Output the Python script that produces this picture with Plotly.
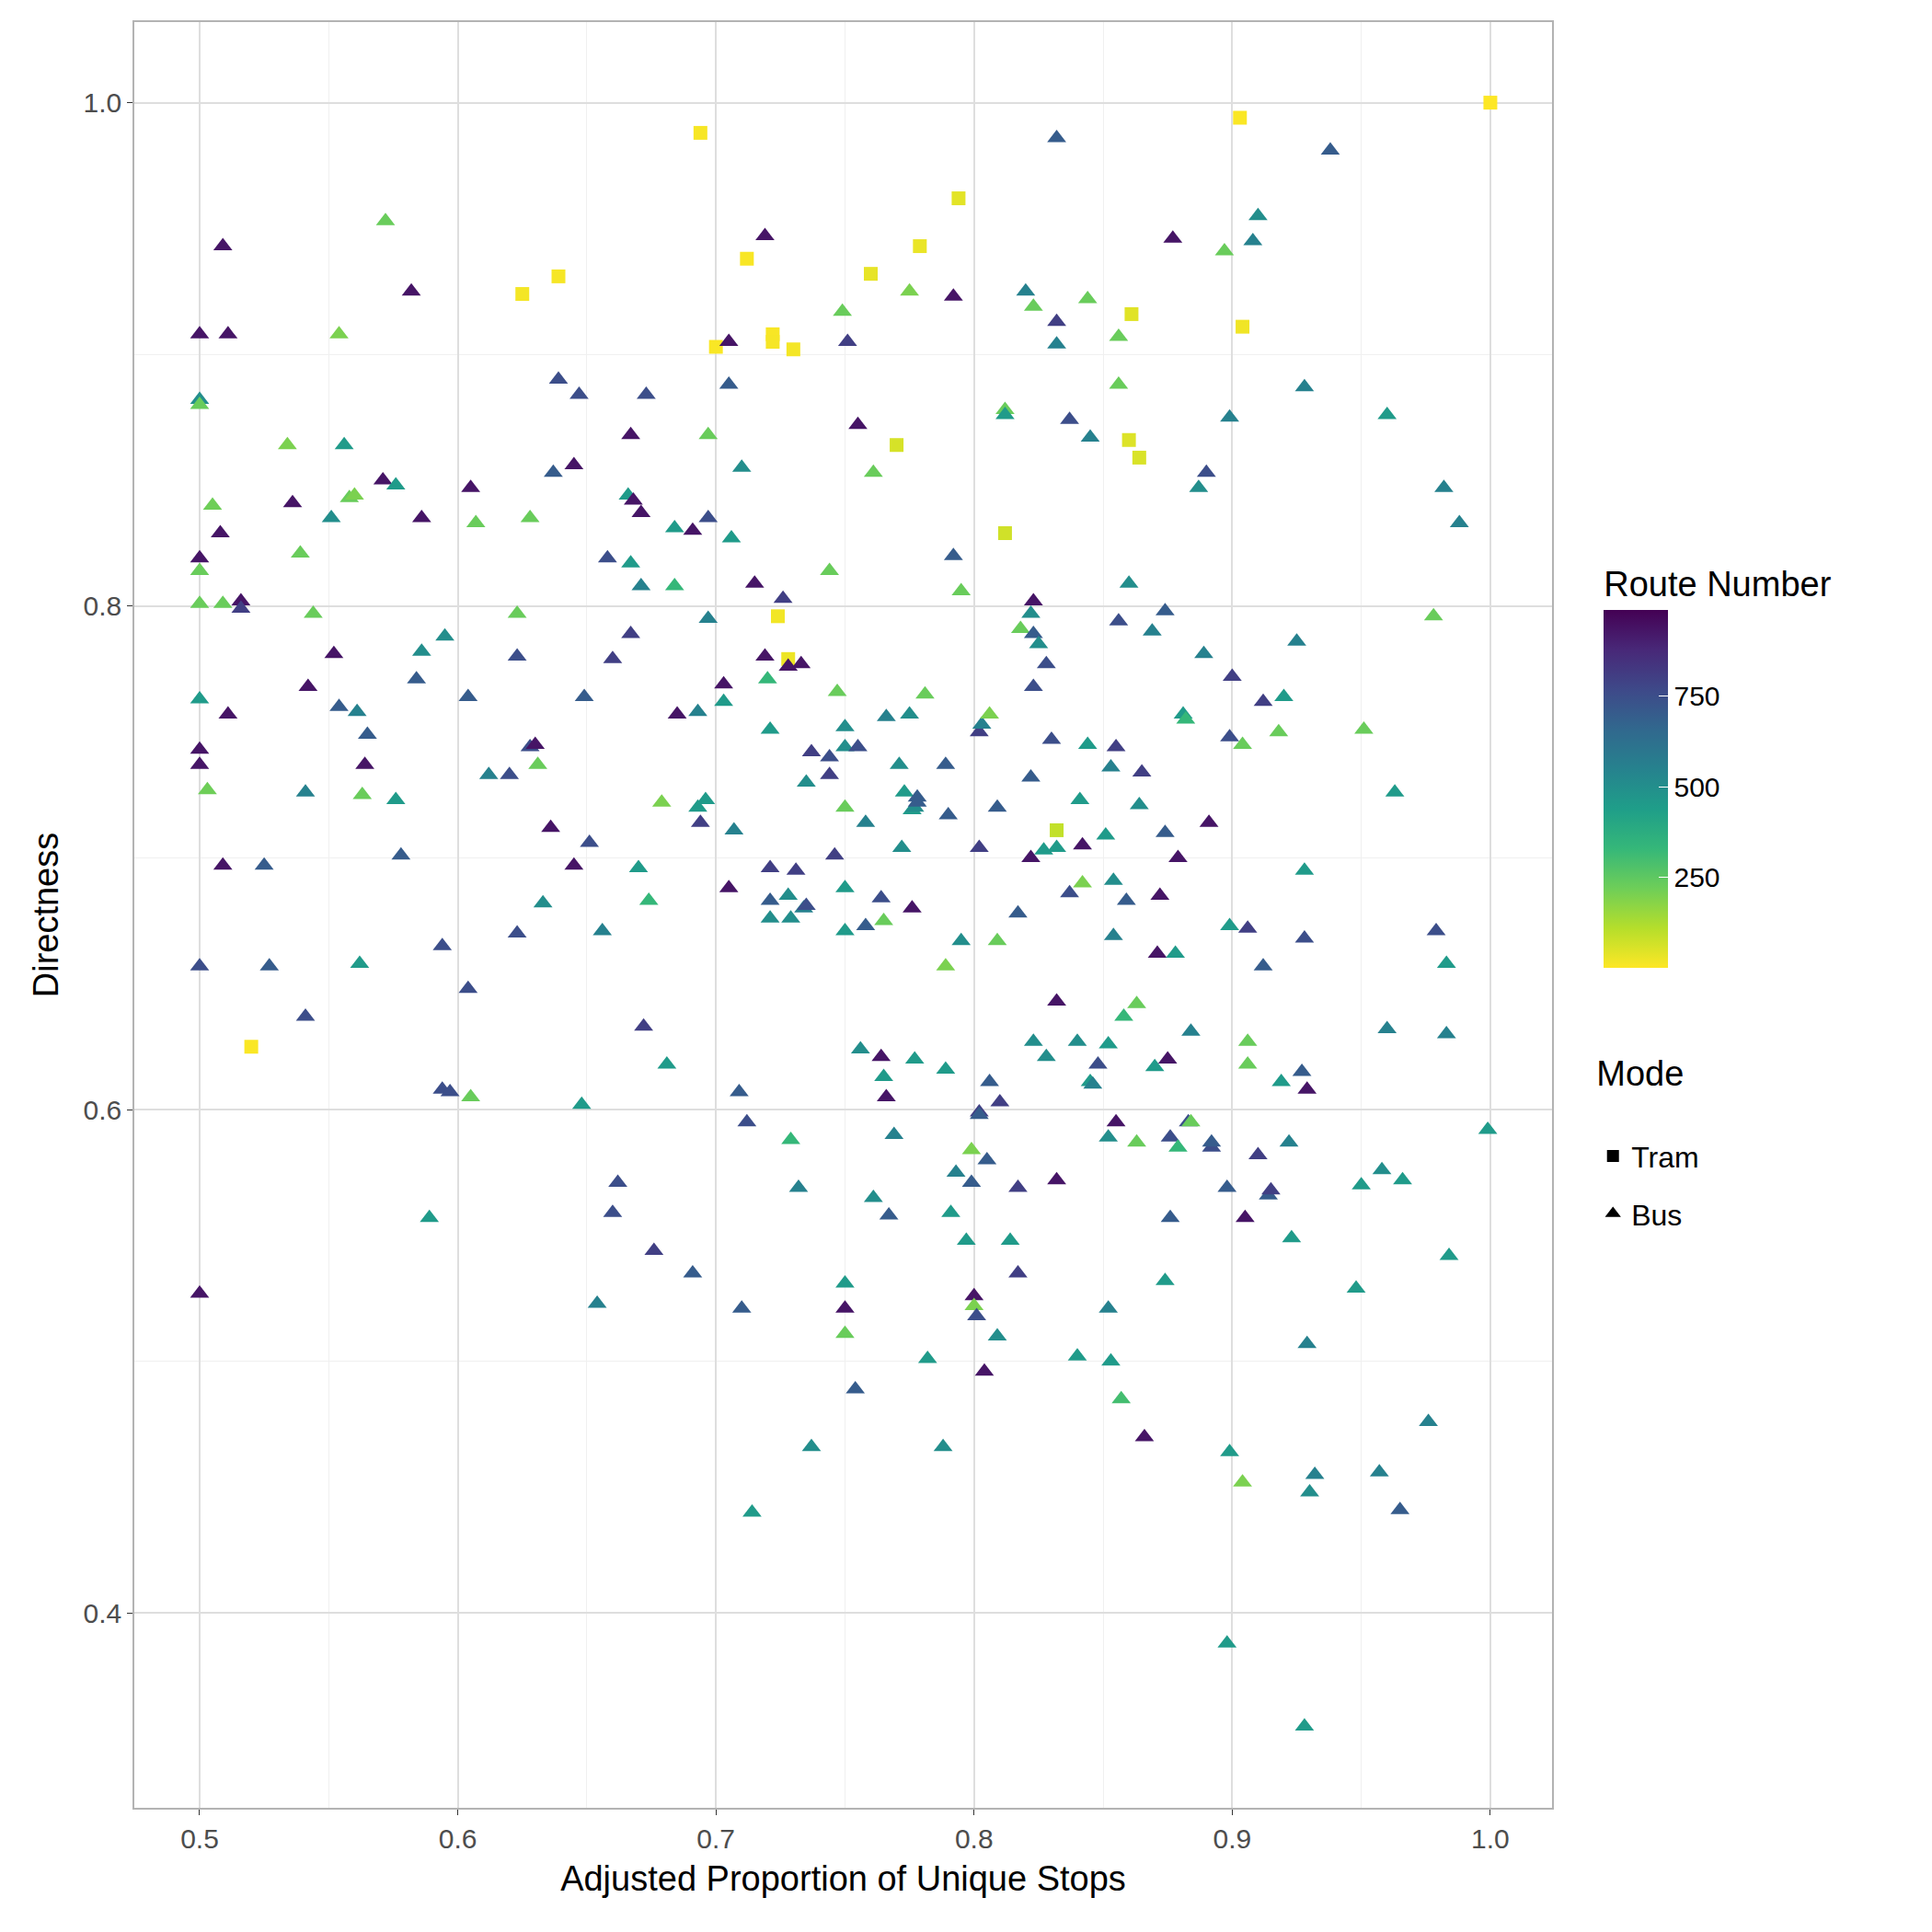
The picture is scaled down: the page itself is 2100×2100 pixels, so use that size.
import plotly.graph_objects as go

# Tram routes: adjusted proportion, directness, route number
tram_x = [0.694,0.903,1.0,0.794,0.779,0.712,0.760,0.639,0.625,0.861,0.904,0.722,0.722,0.730,0.700,0.860,0.770,0.864,0.812,0.724,0.728,0.832,0.520]
tram_y = [0.988,0.994,1.0,0.962,0.943,0.938,0.932,0.931,0.924,0.916,0.911,0.908,0.905,0.902,0.903,0.866,0.864,0.859,0.829,0.796,0.779,0.711,0.625]
tram_route = [10,5,1,40,30,8,35,12,15,45,20,9,11,14,7,50,60,55,70,18,25,90,6]

# Bus routes (x, directness, route number)
bus_points = [
(0.5,0.908,930),(0.5,0.882,500),(0.5,0.880,230),(0.5,0.819,930),(0.5,0.814,230),(0.5,0.801,230),(0.5,0.763,450),
(0.5,0.743,930),(0.5,0.737,930),(0.5,0.657,750),(0.5,0.527,930),
(0.509,0.943,930),(0.511,0.908,930),(0.505,0.840,220),(0.508,0.829,930),(0.509,0.801,230),(0.516,0.802,930),
(0.516,0.799,800),(0.503,0.727,220),(0.511,0.757,930),(0.509,0.697,930),(0.525,0.697,700),(0.527,0.657,700),
(0.534,0.864,200),(0.536,0.841,930),(0.539,0.821,230),(0.544,0.797,230),(0.542,0.768,930),(0.541,0.726,550),
(0.541,0.637,750),(0.552,0.781,930),(0.554,0.908,200),(0.556,0.864,450),(0.551,0.835,500),(0.558,0.843,230),
(0.560,0.844,200),(0.554,0.760,700),(0.561,0.758,550),(0.565,0.749,700),(0.564,0.737,930),(0.563,0.725,230),
(0.562,0.658,450),(0.572,0.953,230),(0.571,0.850,930),(0.576,0.848,450),(0.576,0.723,450),(0.578,0.701,700),
(0.582,0.925,930),(0.586,0.835,930),(0.584,0.771,700),(0.586,0.782,500),(0.595,0.788,500),(0.594,0.665,750),
(0.594,0.608,750),(0.597,0.607,750),(0.589,0.557,450),(0.605,0.847,930),(0.607,0.833,230),(0.604,0.764,700),
(0.604,0.648,750),(0.605,0.605,230),(0.612,0.733,550),(0.620,0.733,750),(0.623,0.780,750),(0.623,0.797,230),
(0.628,0.835,230),(0.628,0.744,750),(0.630,0.745,930),(0.631,0.737,230),(0.623,0.670,750),(0.633,0.682,500),
(0.636,0.712,930),(0.637,0.853,700),(0.639,0.890,750),(0.645,0.856,930),(0.647,0.884,750),(0.645,0.697,930),
(0.651,0.706,750),(0.649,0.764,700),(0.648,0.602,450),(0.654,0.523,550),(0.656,0.671,550),(0.658,0.819,750),
(0.660,0.779,800),(0.660,0.559,750),(0.662,0.571,750),(0.667,0.868,930),(0.666,0.844,450),(0.667,0.789,800),
(0.667,0.817,450),(0.668,0.842,930),(0.671,0.837,930),(0.671,0.808,550),(0.673,0.884,750),(0.670,0.696,450),
(0.674,0.683,330),(0.672,0.633,800),(0.676,0.544,800),(0.679,0.722,200),(0.681,0.618,450),(0.684,0.831,450),
(0.684,0.808,330),(0.685,0.757,930),(0.691,0.830,930),(0.693,0.758,550),(0.693,0.720,450),(0.694,0.714,800),
(0.691,0.535,700),(0.696,0.723,450),(0.697,0.835,750),(0.697,0.795,550),(0.697,0.868,230),(0.703,0.762,450),
(0.703,0.769,930),(0.705,0.905,930),(0.705,0.888,700),(0.705,0.688,930),(0.706,0.827,450),(0.707,0.711,550),
(0.710,0.855,500),(0.709,0.607,700),(0.710,0.521,700),(0.712,0.595,750),(0.714,0.440,450),(0.715,0.809,930),
(0.719,0.947,930),(0.719,0.780,930),(0.720,0.771,330),(0.721,0.751,450),(0.721,0.696,800),(0.721,0.683,700),
(0.721,0.676,500),(0.726,0.803,800),(0.728,0.776,930),(0.729,0.588,330),(0.729,0.676,500),(0.728,0.685,500),
(0.731,0.695,800),(0.732,0.569,550),(0.733,0.777,930),(0.734,0.680,550),(0.735,0.681,750),(0.735,0.730,500),
(0.737,0.742,800),(0.737,0.466,500),(0.744,0.740,750),(0.744,0.733,800),(0.744,0.814,230),(0.746,0.701,800),
(0.747,0.766,230),(0.749,0.917,230),(0.750,0.752,500),(0.750,0.744,500),(0.750,0.720,230),(0.750,0.688,450),
(0.750,0.671,450),(0.750,0.531,450),(0.750,0.521,930),(0.750,0.511,230),(0.751,0.905,800),(0.755,0.744,750),
(0.755,0.872,930),(0.754,0.489,700),(0.756,0.624,500),(0.758,0.714,550),(0.758,0.673,700),(0.761,0.853,230),
(0.761,0.565,500),(0.764,0.684,750),(0.764,0.621,930),(0.765,0.613,450),(0.765,0.675,230),(0.766,0.756,550),
(0.766,0.605,930),(0.767,0.558,700),(0.769,0.590,550),(0.771,0.737,500),(0.772,0.704,500),(0.773,0.726,450),
(0.775,0.757,500),(0.775,0.925,200),(0.776,0.719,450),(0.776,0.680,930),(0.777,0.620,450),(0.777,0.720,500),
(0.778,0.724,700),(0.778,0.722,700),(0.781,0.765,230),(0.782,0.501,450),(0.789,0.737,700),(0.789,0.616,450),
(0.788,0.466,500),(0.789,0.657,200),(0.790,0.717,700),(0.791,0.559,450),(0.792,0.923,930),(0.793,0.575,550),
(0.792,0.820,700),(0.795,0.806,230),(0.795,0.667,500),(0.797,0.548,450),(0.799,0.584,200),(0.799,0.571,700),
(0.800,0.526,930),(0.800,0.522,200),(0.801,0.518,750),(0.802,0.750,800),(0.803,0.753,550),(0.802,0.704,800),
(0.802,0.599,800),(0.802,0.598,700),(0.804,0.496,930),(0.805,0.580,700),(0.806,0.611,700),(0.806,0.757,200),
(0.809,0.510,500),(0.809,0.667,230),(0.809,0.720,700),(0.810,0.603,800),(0.812,0.878,230),(0.812,0.876,450),
(0.814,0.548,450),(0.817,0.569,800),(0.817,0.535,800),(0.817,0.678,700),(0.818,0.791,230),(0.820,0.925,550),
(0.823,0.802,930),(0.822,0.797,500),(0.823,0.789,700),(0.823,0.768,750),(0.822,0.732,700),(0.822,0.700,930),
(0.823,0.627,500),(0.823,0.919,230),(0.825,0.785,500),(0.827,0.703,450),(0.828,0.621,500),(0.828,0.777,750),
(0.830,0.747,750),(0.832,0.986,700),(0.832,0.643,930),(0.832,0.572,930),(0.832,0.913,800),(0.832,0.904,550),
(0.832,0.704,450),(0.837,0.874,750),(0.837,0.686,750),(0.840,0.627,500),(0.840,0.502,450),(0.842,0.705,930),
(0.842,0.690,200),(0.841,0.723,450),(0.844,0.922,230),(0.844,0.745,450),(0.845,0.867,550),(0.845,0.611,450),
(0.846,0.610,550),(0.848,0.618,750),(0.851,0.709,450),(0.853,0.736,550),(0.852,0.626,450),(0.852,0.589,500),
(0.852,0.521,550),(0.853,0.500,450),(0.854,0.691,500),(0.854,0.669,550),(0.855,0.595,930),(0.855,0.744,800),
(0.856,0.907,230),(0.856,0.888,230),(0.856,0.794,750),(0.857,0.485,300),(0.858,0.637,330),(0.860,0.809,500),
(0.859,0.683,700),(0.863,0.642,230),(0.863,0.587,230),(0.864,0.721,500),(0.865,0.734,800),(0.866,0.470,930),
(0.869,0.790,550),(0.870,0.617,450),(0.871,0.662,930),(0.872,0.685,930),(0.874,0.798,700),(0.874,0.710,700),
(0.874,0.532,450),(0.875,0.620,930),(0.876,0.557,700),(0.876,0.589,750),(0.877,0.946,930),(0.878,0.662,450),
(0.879,0.700,930),(0.879,0.585,330),(0.881,0.757,450),(0.882,0.755,330),(0.883,0.595,750),(0.884,0.631,550),
(0.884,0.595,230),(0.887,0.847,500),(0.889,0.781,550),(0.890,0.853,750),(0.891,0.714,930),(0.892,0.585,750),
(0.892,0.587,700),(0.897,0.941,230),(0.898,0.569,700),(0.898,0.388,450),(0.899,0.748,750),(0.899,0.673,450),
(0.899,0.464,450),(0.900,0.772,800),(0.899,0.875,550),(0.904,0.745,230),(0.904,0.452,200),(0.905,0.557,930),
(0.906,0.672,800),(0.906,0.627,230),(0.906,0.618,230),(0.908,0.945,550),(0.910,0.582,800),(0.910,0.955,500),
(0.912,0.657,700),(0.912,0.762,800),(0.914,0.566,700),(0.915,0.568,800),(0.918,0.750,230),(0.920,0.764,450),
(0.919,0.611,450),(0.922,0.587,550),(0.923,0.549,450),(0.925,0.786,550),(0.927,0.615,700),(0.928,0.887,550),
(0.928,0.695,450),(0.928,0.668,750),(0.929,0.507,550),(0.929,0.608,930),(0.928,0.355,450),(0.930,0.448,500),
(0.932,0.455,550),(0.938,0.981,700),(0.948,0.529,450),(0.950,0.570,450),(0.951,0.751,230),(0.957,0.456,550),
(0.958,0.576,500),(0.960,0.876,450),(0.960,0.632,550),(0.963,0.726,450),(0.965,0.441,700),(0.966,0.572,450),
(0.976,0.476,550),(0.978,0.796,230),(0.979,0.671,750),(0.982,0.847,550),(0.983,0.630,550),(0.983,0.658,450),
(0.984,0.542,450),(0.988,0.833,550),(0.999,0.592,450),
]
bus_x = [p[0] for p in bus_points]
bus_y = [p[1] for p in bus_points]
bus_route = [p[2] for p in bus_points]

FONT = "Liberation Sans, Arial, sans-serif"
fig = go.Figure()
fig.add_trace(go.Scatter(x=tram_x, y=tram_y, mode="markers", showlegend=False,
    marker=dict(symbol="square", size=15, color=tram_route, coloraxis="coloraxis")))
fig.add_trace(go.Scatter(x=bus_x, y=bus_y, mode="markers", showlegend=False,
    marker=dict(symbol="triangle-up", size=18, color=bus_route, coloraxis="coloraxis")))
for name, sym, sz in [("Tram", "square", 13), ("Bus", "triangle-up", 15)]:
    fig.add_trace(go.Scatter(x=[None], y=[None], mode="markers", name=name, legendgroup=name,
        marker=dict(symbol=sym, size=sz, color="black")))

axis_common = dict(showgrid=True, gridcolor="#dedede", gridwidth=1.6, zeroline=False,
    showline=True, linecolor="#b3b3b3", linewidth=1.5, mirror=True,
    ticks="outside", ticklen=6, tickcolor="#333333",
    tickfont=dict(size=30, color="#4d4d4d", family=FONT))
fig.update_layout(
    width=2100, height=2100, plot_bgcolor="white", paper_bgcolor="white",
    margin=dict(l=138, r=421, t=16, b=143),
    font=dict(family=FONT),
    xaxis=dict(range=[0.4747, 1.0239], tick0=0.5, dtick=0.1, tickformat=".1f",
        minor=dict(dtick=0.05, showgrid=True, gridcolor="#f0f0f0", gridwidth=1),
        title=dict(text="Adjusted Proportion of Unique Stops", font=dict(size=38, color="black")),
        **axis_common),
    yaxis=dict(range=[0.3227, 1.032], tick0=0.4, dtick=0.2, tickformat=".1f",
        minor=dict(dtick=0.1, showgrid=True, gridcolor="#f0f0f0", gridwidth=1),
        title=dict(text="Directness", font=dict(size=38, color="black")),
        **axis_common),
    coloraxis=dict(colorscale="Viridis", reversescale=True, cmin=1, cmax=985,
        colorbar=dict(title=dict(text="Route Number<br> ", font=dict(size=38, color="black"), side="top"),
            x=1.03, xanchor="left", y=0.70, yanchor="top", len=0.235, lenmode="fraction",
            thickness=70, outlinewidth=0, tickvals=[250, 500, 750], ticks="inside", ticklen=10,
            tickcolor="white", tickfont=dict(size=30, color="black"))),
    legend=dict(title=dict(text="Mode<br> ", font=dict(size=38, color="black")),
        x=1.03, xanchor="left", y=0.43, yanchor="top",
        font=dict(size=32, color="black"), itemsizing="trace", tracegroupgap=18),
)
fig.write_html("out.html")
